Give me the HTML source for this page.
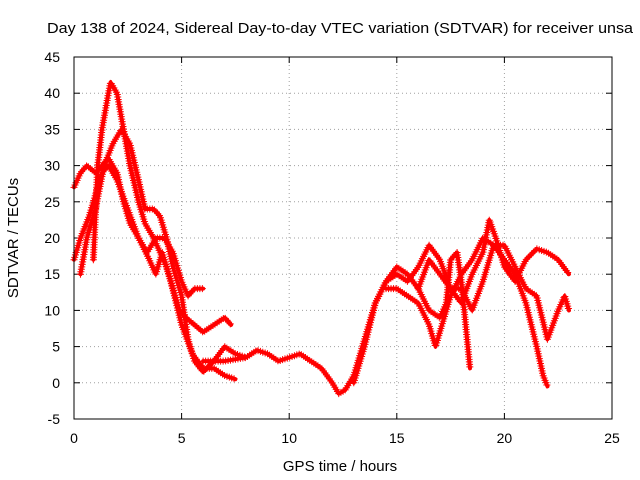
<!DOCTYPE html>
<html><head><meta charset="utf-8"><style>
body{margin:0;background:#fff;}
svg{display:block;font-family:"Liberation Sans",sans-serif;}
</style></head><body>
<svg id="chart" width="640" height="480">
<rect width="640" height="480" fill="#fff"/>
<text x="340" y="33" font-size="15" text-anchor="middle" textLength="586" lengthAdjust="spacingAndGlyphs">Day 138 of 2024, Sidereal Day-to-day VTEC variation (SDTVAR) for receiver unsa</text>
<text x="340" y="471" font-size="15" text-anchor="middle">GPS time / hours</text>
<text transform="translate(18,238) rotate(-90)" font-size="15" text-anchor="middle">SDTVAR / TECUs</text>
<g id="grid"></g><g id="ticks"></g><g id="marks"></g>
<rect x="74" y="57" width="538" height="362" fill="none" stroke="#000"/>
</svg>
<script>
const xTicks=[0,5,10,15,20,25];
const yTicks=[-5,0,5,10,15,20,25,30,35,40,45];
const trackA=[[0.9,17],[1.1,30],[1.3,35],[1.6,40],[1.7,41.5],[2.0,40],[2.3,35],[2.6,30],[3.0,25],[3.3,22],[3.7,20],[4.0,18],[4.3,16],[4.6,13],[4.9,10],[5.2,9],[5.6,8],[6.0,7],[6.5,8],[7.0,9],[7.3,8]];
const trackB=[[0.3,15],[0.6,20],[1.0,24],[1.4,30],[1.8,33],[2.2,35],[2.6,33],[3.0,28],[3.3,24],[3.7,24],[4.0,23],[4.3,20],[4.6,16],[5.0,12],[5.3,6],[5.6,3],[6.0,1.5],[6.5,3],[7.0,5],[7.5,4],[8.0,3.5]];
const trackC=[[0,27],[0.3,29],[0.6,30],[1.0,29],[1.3,30],[1.6,31],[2.0,29],[2.3,25],[2.6,22],[3.0,20],[3.4,18],[3.8,20],[4.2,20],[4.6,18],[5.0,14],[5.3,12],[5.6,13],[6.0,13]];
const trackD=[[0,17],[0.3,20],[0.7,23],[1.0,26],[1.3,29],[1.6,30],[2.0,28],[2.5,24],[3.0,20],[3.5,17],[3.8,15],[4.1,18],[4.5,14],[5.0,8],[5.5,4],[6.0,2],[6.5,2],[7.0,1],[7.5,0.5]];
const trackMid=[[6.0,3],[7.0,3],[8.0,3.5],[8.5,4.5],[9.0,4],[9.5,3],[10.0,3.5],[10.5,4],[11.0,3],[11.5,2],[12.0,0],[12.3,-1.5],[12.6,-1],[13.0,1],[13.5,6],[14.0,11],[14.5,14],[15.0,16]];
const trackE=[[13,0],[13.5,5],[14,11],[14.5,14],[15,15],[15.5,14],[16,16],[16.5,19],[17,17],[17.5,13],[18,11],[18.5,15],[19,18],[19.3,22.5],[19.6,20],[20,16],[20.5,14],[21,17],[21.5,18.5],[22,18],[22.5,17],[23,15]];
const trackF=[[14.5,13],[15,13],[15.5,12],[16,11],[16.5,8],[16.8,5],[17,7],[17.5,12],[18,15],[18.5,17],[19,20],[19.5,19],[20,17],[20.5,15],[21,11],[21.5,5],[21.8,1],[22,-0.5]];
const trackG=[[15,16],[15.5,15],[16,13],[16.5,10],[17,9],[17.3,11],[17.5,17],[17.8,18],[18,14],[18.2,8],[18.4,2]];
const trackH=[[16,13],[16.5,17],[17,15],[17.5,13],[18,13],[18.5,10],[19,14],[19.5,19],[20,19],[20.5,16],[21,13],[21.5,12],[22,6],[22.5,10],[22.8,12],[23,10]];
const tracks=[trackA,trackB,trackC,trackD,trackMid,trackE,trackF,trackG,trackH];

const X=t=>74+t*(538/25);
const Y=v=>419-(v+5)*(362/50);
const NS="http://www.w3.org/2000/svg";
const grid=document.getElementById('grid'),ticks=document.getElementById('ticks'),marks=document.getElementById('marks');
function mk(tag,attrs,parent){const e=document.createElementNS(NS,tag);for(const k in attrs)e.setAttribute(k,attrs[k]);parent.appendChild(e);return e;}
xTicks.forEach(t=>{
  const gl=mk('line',{x1:X(t),x2:X(t),y1:57,y2:419,stroke:'#a0a0a0','stroke-dasharray':'1,3'},grid);
  
  
  mk('line',{x1:X(t),x2:X(t),y1:419,y2:413,stroke:'#000'},ticks);
  mk('line',{x1:X(t),x2:X(t),y1:57,y2:63,stroke:'#000'},ticks);
  const tx=mk('text',{x:X(t),y:443,'font-size':14,'text-anchor':'middle'},ticks);tx.textContent=t;
  
  
});
yTicks.forEach(v=>{
  const gl=mk('line',{x1:74,x2:612,y1:Y(v),y2:Y(v),stroke:'#a0a0a0','stroke-dasharray':'1,3'},grid);
  
  
  mk('line',{x1:74,x2:80,y1:Y(v),y2:Y(v),stroke:'#000'},ticks);
  mk('line',{x1:612,x2:606,y1:Y(v),y2:Y(v),stroke:'#000'},ticks);
  const tx=mk('text',{x:60,y:Y(v)+5,'font-size':14,'text-anchor':'end'},ticks);tx.textContent=v;
  
  
});
tracks.forEach(tr=>{
  const g=mk('g',{},marks);
  
  
  const pts=tr.map(p=>X(p[0])+','+Y(p[1])).join(' ');
  const pl=mk('polyline',{points:pts,fill:'none',stroke:'#f00','stroke-width':4,'stroke-linejoin':'round','stroke-linecap':'round'},g);
  const L=pl.getTotalLength();
  let d='';
  for(let s=0;s<=L;s+=2.5){const p=pl.getPointAtLength(s);d+=`M${p.x-3.5},${p.y}h7M${p.x},${p.y-3.5}v7`;}
  mk('path',{d:d,stroke:'#f00','stroke-width':1,fill:'none'},g);
});
</script>
</body></html>
